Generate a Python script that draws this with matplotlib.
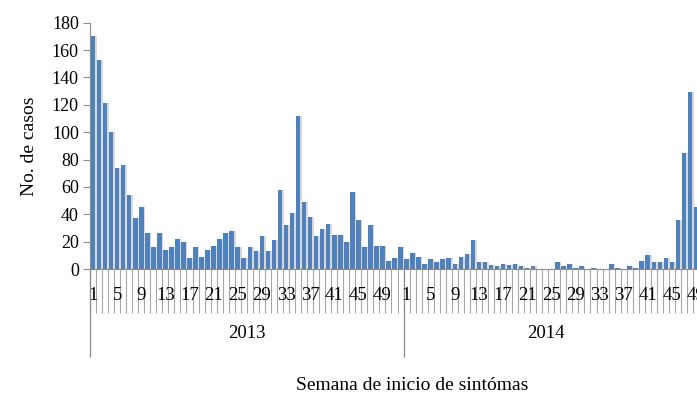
import numpy as np
import matplotlib
matplotlib.use("Agg")
import matplotlib.pyplot as plt
import matplotlib.transforms as mtransforms

# Casos por semana epidemiológica
casos_2013 = [170, 153, 121, 100, 74, 76, 54, 37, 45, 26, 16, 26, 14, 16, 22, 20,
              8, 16, 9, 14, 17, 22, 26, 28, 16, 8, 16, 13, 24, 13, 21, 58,
              32, 41, 112, 49, 38, 24, 29, 33, 25, 25, 20, 56, 36, 16, 32, 17,
              17, 6, 8, 16]
casos_2014 = [7, 12, 9, 4, 7, 5, 7, 8, 4, 9, 11, 21, 5, 5, 3, 2,
              4, 3, 4, 2, 1, 2, 0, 0, 0, 5, 2, 4, 1, 2, 0, 1,
              0, 0, 4, 1, 0, 2, 1, 6, 10, 5, 5, 8, 5, 36, 85, 129,
              45]
anios = ["2013", "2014"]
semanas_etiqueta = list(range(1, 53, 4))

plt.rcParams['font.family'] = ['Liberation Serif', 'DejaVu Serif']

valores = np.array(casos_2013 + casos_2014)
n13 = len(casos_2013)
x = np.arange(len(valores))

W, H = 697, 400
fig = plt.figure(figsize=(W / 100, H / 100), dpi=100)
x0, y0, top = 90, 269, 22.7
ax = fig.add_axes([x0 / W, (H - y0) / H, (W - x0) / W, (y0 - top) / H])

azul = "#4f81bd"
gris = "#8c8c8c"

# sombra y barras
ax.bar(x + 0.25, valores, width=0.76, color="#d9d9d9", zorder=1)
ax.bar(x, valores, width=0.76, color=azul, zorder=2)

px = 6.03
ax.set_xlim(-0.5, -0.5 + (W - x0) / px)
ax.set_ylim(0, 180)
ax.set_yticks(range(0, 181, 20))
ax.tick_params(axis="y", direction="out", length=5, color=gris, labelsize=13, pad=3)
ax.set_xticks([])
for s in ["top", "right"]:
    ax.spines[s].set_visible(False)
ax.spines["left"].set_color(gris)
ax.spines["bottom"].set_color(gris)

ax.set_ylabel("No. de casos", fontsize=14, labelpad=10)

trans = mtransforms.blended_transform_factory(ax.transData, ax.transAxes)
alto = y0 - top
# líneas de categoría
bordes = np.arange(len(valores) + 1) - 0.5
ax.vlines(bordes, -(313 - y0) / alto, 0, transform=trans, color="#a6a6a6",
          lw=0.8, clip_on=False, zorder=0)
# divisores de año
ax.vlines([-0.5, n13 - 0.5], -(357 - y0) / alto, 0, transform=trans, color=gris,
          lw=0.9, clip_on=False)

# etiquetas de semana
for off, n in [(0, n13), (n13, len(casos_2014))]:
    for s in semanas_etiqueta:
        if s <= n:
            ax.text(off + s - 1, -(295 - y0) / alto, str(s), transform=trans,
                    ha="center", va="center", fontsize=13.5, clip_on=False)

# etiquetas de año
xmax = ax.get_xlim()[1]
ax.text((n13 - 1) / 2, -(333 - y0) / alto, anios[0], transform=trans,
        ha="center", va="center", fontsize=13.5)
ax.text((n13 - 0.5 + xmax) / 2 - 0.7, -(333 - y0) / alto, anios[1], transform=trans,
        ha="center", va="center", fontsize=13.5)

fig.text(412 / W, 1 - 385 / H, "Semana de inicio de sintómas", ha="center",
         va="center", fontsize=14)

fig.savefig("out.png", dpi=100)
